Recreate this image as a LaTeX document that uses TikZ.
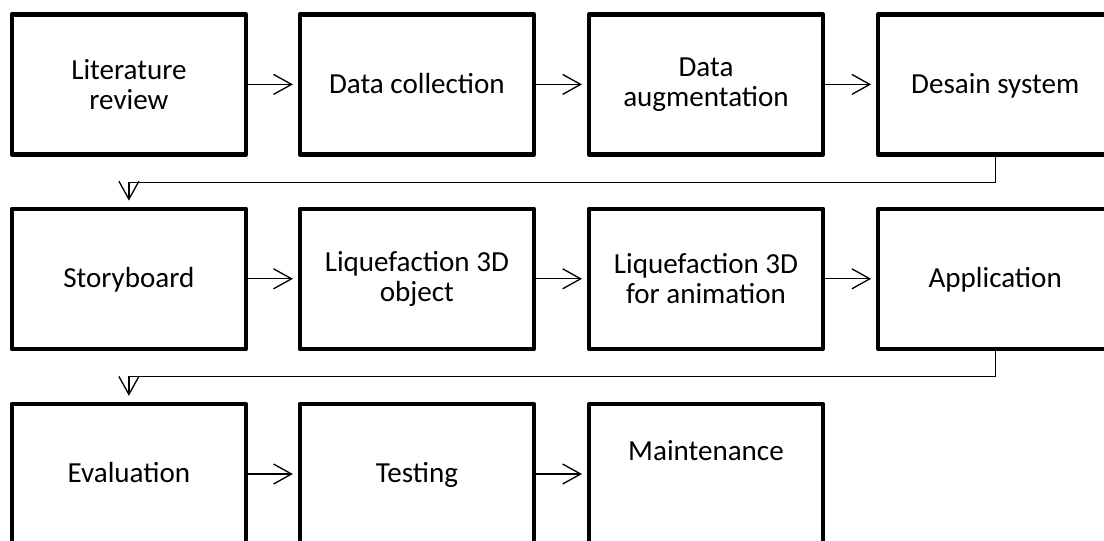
\documentclass[tikz,border=0pt]{standalone}
\usepackage{fontspec}
\setmainfont{Carlito}
\usetikzlibrary{arrows.meta}
\tikzset{
  box/.style={draw, line width=3.3pt, line join=round, minimum width=175.7pt, minimum height=105pt,
    inner sep=0pt, align=center, font=\fontsize{21.8}{22.5}\selectfont},
  oneline/.style={text height=15.5pt, text depth=2.5pt},
  lbl/.style={inner sep=0pt, font=\fontsize{21.8}{22.5}\selectfont},
  conn/.style={line width=1pt, -{Straight Barb[length=13.5pt, width=15pt, line width=1pt]}, shorten >=3.5pt},
}
\begin{document}
\begin{tikzpicture}[x=0.75pt, y=-0.75pt]
\clip (0,0) rectangle (1104,540);
% row 1
\node[box] (b1) at (128.9,84.4) {Literature\\review};
\node[box, oneline] (b2) at (416.9,84.4) {Data collection};
\node[box] (b3) at (706,84.4) {Data\\augmentation};
\node[box, oneline] (b4) at (995.2,84.4) {Desain system};
% row 2
\node[box, oneline] (b5) at (128.9,278.8) {Storyboard};
\node[box] (b6) at (416.9,278.8) {Liquefaction 3D\\object};
\node[box] (b7) at (706,278.8) {Liquefaction 3D\\for animation};
\node[box, oneline] (b8) at (995.2,278.8) {Application};
% row 3
\node[box, oneline] (b9) at (128.9,474) {Evaluation};
\node[box, oneline] (b10) at (416.9,474) {Testing};
\node[box] (b11) at (706,474) {};
\node[lbl, anchor=base] (t11) at (706,460) {Maintenance};
% connectors
\draw[conn] (b1.east) -- (b2.west);
\draw[conn] (b2.east) -- (b3.west);
\draw[conn] (b3.east) -- (b4.west);
\draw[conn] (b5.east) -- (b6.west);
\draw[conn] (b6.east) -- (b7.west);
\draw[conn] (b7.east) -- (b8.west);
\draw[conn] (b9.east) -- (b10.west);
\draw[conn] (b10.east) -- (b11.west);
\draw[conn, shorten >=4.5pt] (b4.south) -- ++(0,25.7) -| (b5.north);
\draw[conn, shorten >=4.5pt] (b8.south) -- ++(0,25.2) -| (b9.north);
\end{tikzpicture}
\end{document}
